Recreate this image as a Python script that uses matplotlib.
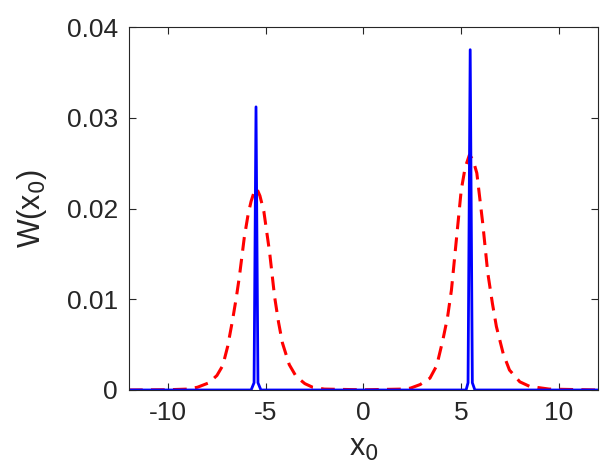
import matplotlib
matplotlib.use("Agg")
import matplotlib.pyplot as plt

plt.rcParams['font.family'] = ['Liberation Sans', 'DejaVu Sans']

# dashed red curve (broad peaks)
red_x = [-12, -10, -9, -8.5, -7.9, -7.5, -7.2, -6.95, -6.7, -6.5, -6.35, -6.1, -5.9,
         -5.75, -5.6, -5.46, -5.3, -5.1, -4.8, -4.55, -4.35, -4.15, -3.8, -3.45, -3.0,
         -2.6, -2.0, 0, 2.0, 2.4, 2.9, 3.4, 3.75, 4.06, 4.3, 4.5, 4.75, 5.0, 5.2, 5.42,
         5.6, 5.8, 6.1, 6.36, 6.6, 6.8, 7.15, 7.47, 8.0, 8.5, 9.5, 12]
red_y = [0, 0.00003, 0.0001, 0.0003, 0.0008, 0.0016, 0.0027, 0.0048, 0.0077, 0.0103,
         0.0125, 0.0168, 0.0194, 0.0208, 0.0218, 0.0222, 0.0214, 0.0197, 0.0151, 0.0103,
         0.0075, 0.0052, 0.0028, 0.0015, 0.0007, 0.0003, 0.0001, 0.00002, 0.0001, 0.0002,
         0.0006, 0.0013, 0.0027, 0.0055, 0.0080, 0.0110, 0.0165, 0.0220, 0.0245, 0.0259,
         0.0254, 0.0239, 0.0184, 0.0129, 0.0095, 0.0070, 0.0040, 0.0022, 0.0009, 0.0004,
         0.0001, 0]

# solid blue curve (narrow spikes)
blue_x = [-12, -5.75, -5.6, -5.5, -5.4, -5.25, 5.25, 5.35, 5.46, 5.57, 5.7, 12]
blue_y = [0, 0, 0.0008, 0.0312, 0.0008, 0, 0, 0.0008, 0.0375, 0.0008, 0, 0]

xticks = [-10, -5, 0, 5, 10]
yticks = [0, 0.01, 0.02, 0.03, 0.04]
ytick_labels = ['0', '0.01', '0.02', '0.03', '0.04']

dark = (0.15, 0.15, 0.15)

fig = plt.figure(figsize=(6.03, 4.65), dpi=100)
ax = fig.add_axes([0.2139, 0.1613, 0.7778, 0.7806])

ax.plot(red_x, red_y, '--', color='red', linewidth=2.2, dashes=(4.5, 2.7))
ax.plot(blue_x, blue_y, '-', color='blue', linewidth=2.0)

ax.set_xlim(-12, 12)
ax.set_ylim(0, 0.04)
ax.set_xticks(xticks)
ax.set_xticklabels([str(t) for t in xticks])
ax.set_yticks(yticks)
ax.set_yticklabels(ytick_labels)

ax.tick_params(direction='in', length=5, width=0.8, top=True, right=True,
               labelsize=19, colors=dark)
ax.tick_params(axis='y', pad=8)
ax.tick_params(axis='x', pad=8)
for s in ax.spines.values():
    s.set_color(dark)
    s.set_linewidth(0.8)

ax.set_xlabel('x$_0$', fontsize=22, color=dark, labelpad=6)
ax.set_ylabel('W(x$_0$)', fontsize=22, color=dark, labelpad=13)

fig.savefig('out.png', dpi=100)
